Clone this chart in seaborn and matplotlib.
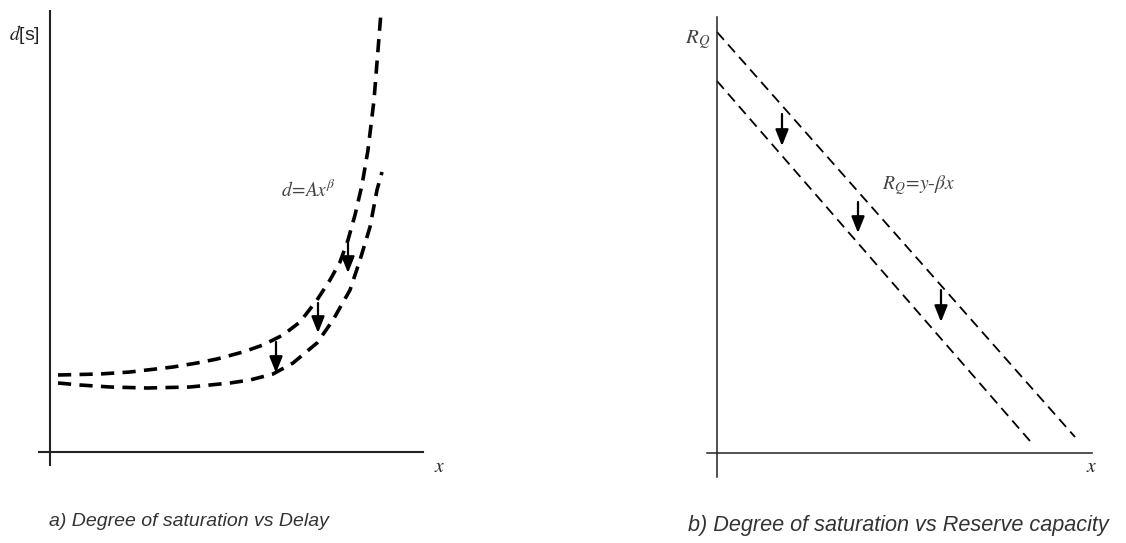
import numpy as np
import pandas as pd
import seaborn as sns
import matplotlib.pyplot as plt

# ---- data (units relative to each axis origin) ----
# left panel: delay curves, before / after
d_upper_x = [8, 50, 80, 123, 147, 167, 193, 213, 233, 250, 267, 280, 290, 298, 305, 312, 318, 324, 328, 331]
d_upper_y = [77, 78, 80, 85, 89, 93, 100, 107, 117, 130, 152, 172, 190, 212, 237, 267, 302, 352, 402, 440]
d_lower_x = [8, 30, 60, 97, 140, 180, 200, 223, 243, 267, 283, 300, 310, 320, 327, 332]
d_lower_y = [69, 67, 65, 64, 65, 69, 72, 78, 89, 109, 132, 162, 192, 225, 262, 280]
d_arrow_x = [298, 268, 226]
d_arrow_from = [212, 149, 110]
d_arrow_to = [179, 119, 79]

# right panel: reserve capacity lines, before / after
r_upper_x = [0, 358]
r_upper_y = [421, 16]
r_lower_x = [0, 313]
r_lower_y = [372, 12]
r_arrow_x = [65, 141, 224]
r_arrow_from = [339, 251, 163]
r_arrow_to = [307, 220, 131]

caption_a = "a) Degree of saturation vs Delay"
caption_b = "b) Degree of saturation vs Reserve capacity"

sns.set_theme(style="white")
plt.rcParams["lines.scale_dashes"] = False
plt.rcParams["mathtext.fontset"] = "stix"
plt.rcParams["font.family"] = ["Liberation Sans", "DejaVu Sans"]

W, H = 1126, 543
fig = plt.figure(figsize=(W / 100, H / 100), dpi=100)


def panel(x0, x1, y_bottom, ox, oy):
    # axes placed so one data unit is one pixel, origin at (ox, oy) pixels
    ax = fig.add_axes([x0 / W, (H - y_bottom) / H, (x1 - x0) / W, y_bottom / H])
    ax.set_xlim(x0 - ox, x1 - ox)
    ax.set_ylim(oy - y_bottom, oy)
    ax.set_xticks([])
    ax.set_yticks([])
    ax.patch.set_alpha(0)
    for s in ["top", "right"]:
        ax.spines[s].set_visible(False)
    ax.spines["left"].set_position(("data", 0))
    ax.spines["bottom"].set_position(("data", 0))
    return ax


def arrows(ax, xs, y0s, y1s):
    for x, a, b in zip(xs, y0s, y1s):
        ax.annotate("", xy=(x, b), xytext=(x, a),
                    arrowprops=dict(arrowstyle="-|>,head_length=0.55,head_width=0.22",
                                    mutation_scale=18, lw=1.6, color="black",
                                    shrinkA=0, shrinkB=0))


# ---- left panel ----
axl = panel(0, 560, 490, 50, 452)
axl.spines["left"].set_bounds(-13, 441)
axl.spines["bottom"].set_bounds(-11, 373)
for s in ["left", "bottom"]:
    axl.spines[s].set_linewidth(1.5)
    axl.spines[s].set_color("#222222")

dl = pd.DataFrame({"x": d_upper_x, "y": d_upper_y})
sns.lineplot(data=dl, x="x", y="y", ax=axl, color="black", lw=2.6,
             linestyle=(0, (9.5, 6)), sort=False)
dl2 = pd.DataFrame({"x": d_lower_x, "y": d_lower_y})
sns.lineplot(data=dl2, x="x", y="y", ax=axl, color="black", lw=2.6,
             linestyle=(0, (9.5, 6)), sort=False)
arrows(axl, d_arrow_x, d_arrow_from, d_arrow_to)

axl.text(-26, 417, r"$d$[s]", fontsize=14, ha="center", va="center", color="#222222")
axl.text(258, 262, r"$d\!=\!Ax^{\beta}$", fontsize=14, ha="center", va="center", color="#444444")
axl.text(390, -16, r"$x$", fontsize=14, ha="center", va="center", color="#222222")
axl.set_xlabel("")
axl.set_ylabel("")

# ---- right panel ----
axr = panel(560, 1126, 490, 717, 453)
axr.spines["left"].set_bounds(-24, 436)
axr.spines["bottom"].set_bounds(-10, 375)
for s in ["left", "bottom"]:
    axr.spines[s].set_linewidth(1.1)
    axr.spines[s].set_color("#222222")

sns.lineplot(x=r_upper_x, y=r_upper_y, ax=axr, color="black", lw=1.3,
             linestyle=(0, (7.5, 4.5)))
sns.lineplot(x=r_lower_x, y=r_lower_y, ax=axr, color="black", lw=1.3,
             linestyle=(0, (7.5, 4.5)))
arrows(axr, r_arrow_x, r_arrow_from, r_arrow_to)

axr.text(-19, 413, r"$R_Q$", fontsize=15, ha="center", va="center", color="#444444")
axr.text(201, 268, r"$R_Q\!=\!y$-$\beta x$", fontsize=14, ha="center", va="center",
         color="#444444", family=["Liberation Serif", "DejaVu Serif"])
axr.text(375, -15, r"$x$", fontsize=14, ha="center", va="center", color="#222222")
axr.set_xlabel("")
axr.set_ylabel("")

# ---- captions ----
fig.text(189 / W, 1 - 521 / H, caption_a, fontsize=14, style="italic",
         ha="center", va="center", color="#333333")
fig.text(898 / W, 1 - 525 / H, caption_b, fontsize=15.6, style="italic",
         ha="center", va="center", color="#333333")

fig.savefig("out.png", dpi=100)
